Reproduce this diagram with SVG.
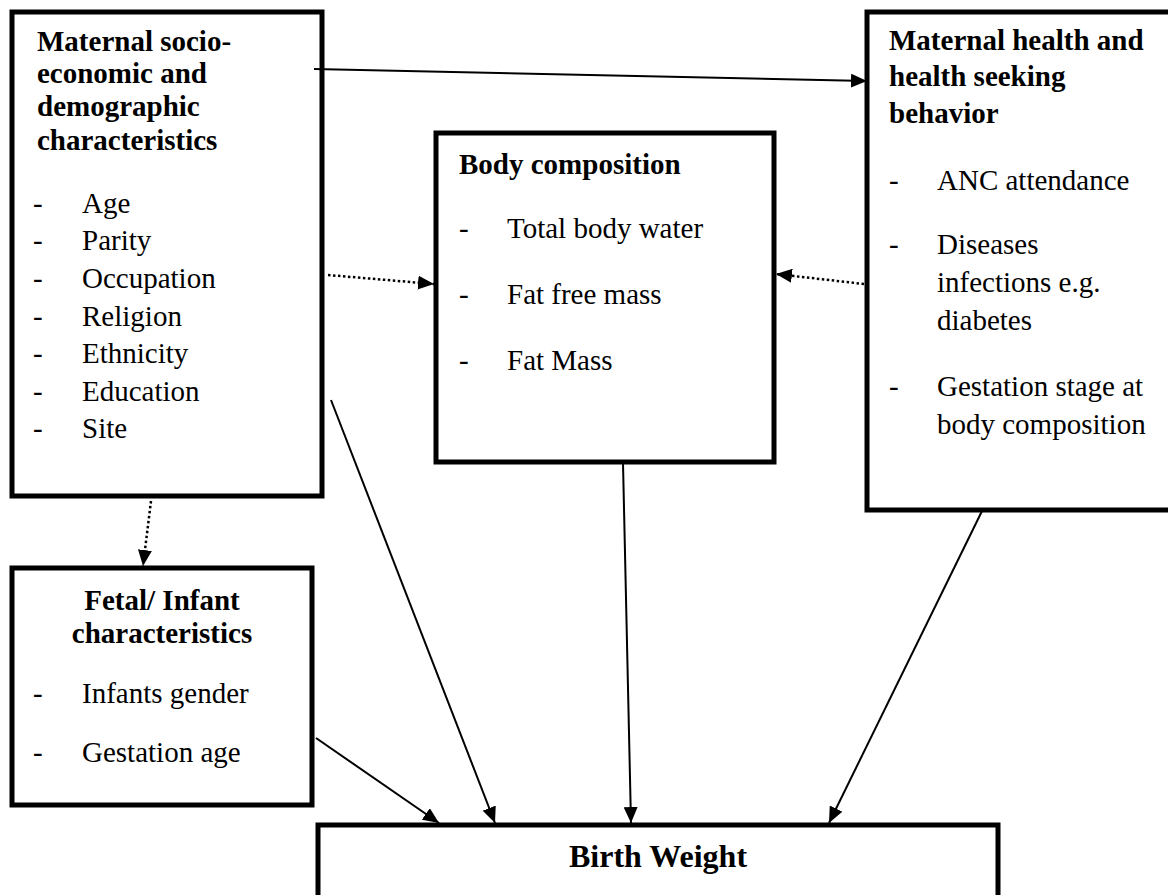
<svg xmlns="http://www.w3.org/2000/svg" width="1168" height="895" viewBox="0 0 1168 895">
<defs>
<marker id="ah" markerUnits="userSpaceOnUse" markerWidth="16" markerHeight="14" refX="16" refY="7" orient="auto">
<path d="M0,0 L16,7 L0,14 z" fill="#000"/>
</marker>
<style>
.box{fill:#fff;stroke:#000;stroke-width:5}
.t{font-family:"Liberation Serif","Times New Roman",serif;font-size:29px;fill:#000}
.b{font-weight:bold}
.c{text-anchor:middle}
.sol{stroke:#000;stroke-width:2;fill:none;marker-end:url(#ah)}
.dot{stroke:#000;stroke-width:2.5;stroke-dasharray:2.5 2.5;fill:none;marker-end:url(#ah)}
</style>
</defs>
<rect width="1168" height="895" fill="#fff"/>
<g id="maternal-socio">
<rect class="box" x="12" y="12" width="310" height="484"/>
<text class="t b" x="37" y="51">Maternal socio-</text>
<text class="t b" x="37" y="83">economic and</text>
<text class="t b" x="37" y="116">demographic</text>
<text class="t b" x="37" y="150">characteristics</text>
<g class="t">
<text x="33" y="213">-</text><text x="82" y="213">Age</text>
<text x="33" y="250">-</text><text x="82" y="250">Parity</text>
<text x="33" y="288">-</text><text x="82" y="288">Occupation</text>
<text x="33" y="326">-</text><text x="82" y="326">Religion</text>
<text x="33" y="363">-</text><text x="82" y="363">Ethnicity</text>
<text x="33" y="401">-</text><text x="82" y="401">Education</text>
<text x="33" y="438">-</text><text x="82" y="438">Site</text>
</g>
</g>
<g id="body-composition">
<rect class="box" x="436" y="133" width="338" height="329"/>
<text class="t b" x="459" y="174">Body composition</text>
<g class="t">
<text x="459" y="238">-</text><text x="507" y="238">Total body water</text>
<text x="459" y="304">-</text><text x="507" y="304">Fat free mass</text>
<text x="459" y="370">-</text><text x="507" y="370">Fat Mass</text>
</g>
</g>
<g id="maternal-health">
<rect class="box" x="867" y="12" width="306" height="498"/>
<text class="t b" x="889" y="50">Maternal health and</text>
<text class="t b" x="889" y="86">health seeking</text>
<text class="t b" x="889" y="123">behavior</text>
<g class="t">
<text x="889" y="190">-</text><text x="937" y="190">ANC attendance</text>
<text x="889" y="254">-</text><text x="937" y="254">Diseases</text>
<text x="937" y="292">infections e.g.</text>
<text x="937" y="330">diabetes</text>
<text x="889" y="396">-</text><text x="937" y="396">Gestation stage at</text>
<text x="937" y="434">body composition</text>
</g>
</g>
<g id="fetal-infant">
<rect class="box" x="12" y="568" width="300" height="237"/>
<text class="t b c" x="162" y="610">Fetal/ Infant</text>
<text class="t b c" x="162" y="643">characteristics</text>
<g class="t">
<text x="33" y="703">-</text><text x="82" y="703">Infants gender</text>
<text x="33" y="762">-</text><text x="82" y="762">Gestation age</text>
</g>
</g>
<g id="birth-weight">
<rect class="box" x="318" y="825" width="680" height="90"/>
<text class="t b c" x="658" y="867" style="font-size:32px">Birth Weight</text>
</g>
<g id="connectors">
<line class="sol" x1="314" y1="69" x2="867" y2="81"/>
<line class="dot" x1="328" y1="275" x2="434" y2="284"/>
<line class="dot" x1="864" y1="284" x2="776" y2="274"/>
<line class="dot" x1="151" y1="501" x2="143" y2="566"/>
<line class="sol" x1="331" y1="400" x2="495" y2="823"/>
<line class="sol" x1="316" y1="738" x2="439" y2="823"/>
<line class="sol" x1="623" y1="463" x2="631" y2="823"/>
<line class="sol" x1="983" y1="509" x2="829" y2="823"/>
</g>
</svg>
